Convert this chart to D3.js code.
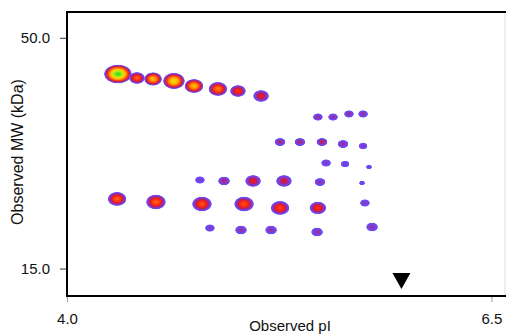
<!DOCTYPE html>
<html>
<head>
<meta charset="utf-8">
<script src="https://cdn.jsdelivr.net/npm/d3@7"></script>
<style>
  html, body { margin: 0; padding: 0; background: #fff; }
  svg { display: block; font-family: "Liberation Sans", Arial, sans-serif; }
</style>
</head>
<body>
<div id="chart"></div>
<script>
// spot data
const spotPI = [
  4.300, 4.412, 4.507, 4.630, 4.748, 4.889, 5.007, 5.143,
  5.478, 5.567, 5.661, 5.744,
  5.255, 5.372, 5.502, 5.626, 5.744,
  5.526, 5.638, 5.779,
  4.783, 4.925, 5.096, 5.278, 5.490, 5.738,
  4.295, 4.524, 4.795, 5.043, 5.255, 5.478, 5.755,
  4.842, 5.025, 5.202, 5.473, 5.797
];
const spotMW = [
  41.39, 40.54, 40.33, 39.91, 38.88, 38.28, 37.88, 36.91,
  33.07, 33.07, 33.60, 33.60,
  29.03, 29.03, 29.03, 28.73, 28.43,
  26.02, 25.88, 25.48,
  23.81, 23.69, 23.69, 23.69, 23.56, 23.44,
  21.57, 21.23, 21.01, 21.01, 20.58, 20.58, 21.12,
  18.53, 18.34, 18.34, 18.15, 18.63
];
// relative spot area
const spotArea = [
  196, 64, 81, 121, 90, 90, 64, 64,
  25, 25, 25, 25,
  30, 30, 30, 30, 20,
  25, 20, 9,
  25, 36, 64, 64, 30, 9,
  90, 100, 100, 100, 90, 72, 25,
  25, 36, 36, 36, 36
];
// relative peak intensity (0..1)
const spotIntensity = [
  1.0, 0.55, 0.72, 0.8, 0.72, 0.6, 0.48, 0.4,
  0.26, 0.26, 0.26, 0.26,
  0.3, 0.3, 0.34, 0.27, 0.22,
  0.22, 0.2, 0.18,
  0.2, 0.3, 0.4, 0.36, 0.25, 0.18,
  0.55, 0.55, 0.52, 0.52, 0.5, 0.46, 0.22,
  0.22, 0.26, 0.26, 0.26, 0.25
];
const theoreticalPI = 5.97;

const xTicks = [4.0, 6.5];
const yTicks = [15.0, 50.0];
const xDomain = [4.0, 6.58];
const yDomain = [13.0, 57.2];

const width = 506, height = 335;
const margin = { top: 12, right: 1, bottom: 39, left: 67 };

const svg = d3.select('#chart').append('svg')
  .attr('width', width)
  .attr('height', height);

const x = d3.scaleLinear()
  .domain(xDomain)
  .range([margin.left, width - margin.right]);

const y = d3.scaleLog()
  .domain(yDomain)
  .range([height - margin.bottom, margin.top]);

const r = d3.scaleSqrt()
  .domain([0, d3.max(spotArea)])
  .range([0, 14]);

// heat colours: violet -> red -> yellow -> green
const heat = d3.scaleLinear()
  .domain([0, 0.06, 0.16, 0.26, 0.36, 0.46, 0.58, 0.72, 0.86, 1.0])
  .range(['#a898ff', '#6a4ef5', '#7442ea', '#9a2c9c', '#d81838', '#ff2a10', '#ff7010', '#ffb800', '#ffee00', '#30e030'])
  .clamp(true);

const spots = spotPI.map((p, i) => ({
  pi: p, mw: spotMW[i], area: spotArea[i], peak: spotIntensity[i]
}));

// one radial gradient per spot
const defs = svg.append('defs');
defs.append('filter')
  .attr('id', 'soft')
  .attr('x', '-20%').attr('y', '-20%').attr('width', '140%').attr('height', '140%')
  .append('feGaussianBlur')
  .attr('stdDeviation', 0.6);

const offsets = [0, 0.15, 0.3, 0.45, 0.6, 0.72, 0.82, 0.9, 0.96, 1];
spots.forEach((s, i) => {
  const g = defs.append('radialGradient')
    .attr('id', 'spot' + i)
    .attr('cx', '50%').attr('cy', '50%').attr('r', '50%');
  offsets.forEach(t => {
    const v = s.peak * (1 - t * t);
    g.append('stop')
      .attr('offset', t)
      .attr('stop-color', heat(v))
      .attr('stop-opacity', t >= 1 ? 0.3 : (t > 0.9 ? 0.85 : 1));
  });
});

svg.append('g')
  .attr('filter', 'url(#soft)')
  .selectAll('ellipse')
  .data(spots)
  .join('ellipse')
  .attr('cx', d => x(d.pi))
  .attr('cy', d => y(d.mw))
  .attr('rx', d => r(d.area))
  .attr('ry', d => r(d.area) * (d.area > 150 ? 0.68 : 0.75))
  .attr('fill', (d, i) => `url(#spot${i})`);

// theoretical pI marker
const tx = x(theoreticalPI);
const by = height - margin.bottom;
svg.append('path')
  .attr('d', `M${tx - 9},${by - 23} L${tx + 9},${by - 23} L${tx},${by - 7} Z`)
  .attr('fill', '#000');

// frame
svg.append('line')
  .attr('x1', width - 1).attr('x2', width - 1)
  .attr('y1', margin.top).attr('y2', by)
  .attr('stroke', '#ddd').attr('stroke-width', 1);
svg.append('path')
  .attr('d', `M${width},${margin.top} H${margin.left} V${by} H${width}`)
  .attr('fill', 'none')
  .attr('stroke', '#000')
  .attr('stroke-width', 2);

const font = '"Liberation Sans", Arial, sans-serif';

// y axis
const yAxis = svg.append('g')
  .attr('transform', `translate(${margin.left - 1},0)`)
  .call(d3.axisLeft(y).tickValues(yTicks).tickFormat(d3.format('.1f')).tickSize(6).tickPadding(10));
yAxis.select('.domain').remove();
yAxis.selectAll('line').attr('stroke', '#333');
yAxis.selectAll('text')
  .attr('fill', '#111')
  .style('font-size', '15px')
  .style('font-family', font);

// x axis
const xAxis = svg.append('g')
  .attr('transform', `translate(0,${by + 1})`)
  .call(d3.axisBottom(x).tickValues(xTicks).tickFormat(d3.format('.1f')).tickSize(5).tickPadding(11));
xAxis.select('.domain').remove();
xAxis.selectAll('line').attr('stroke', '#999');
xAxis.selectAll('text')
  .attr('fill', '#111')
  .style('font-size', '15px')
  .style('font-family', font);

// axis labels
svg.append('text')
  .attr('x', 290)
  .attr('y', 331)
  .attr('text-anchor', 'middle')
  .style('font-size', '15px')
  .attr('fill', '#111')
  .text('Observed pI');

svg.append('text')
  .attr('transform', 'rotate(-90)')
  .attr('x', -152)
  .attr('y', 23)
  .attr('text-anchor', 'middle')
  .style('font-size', '16px')
  .attr('fill', '#111')
  .text('Observed MW (kDa)');
</script>
</body>
</html>
